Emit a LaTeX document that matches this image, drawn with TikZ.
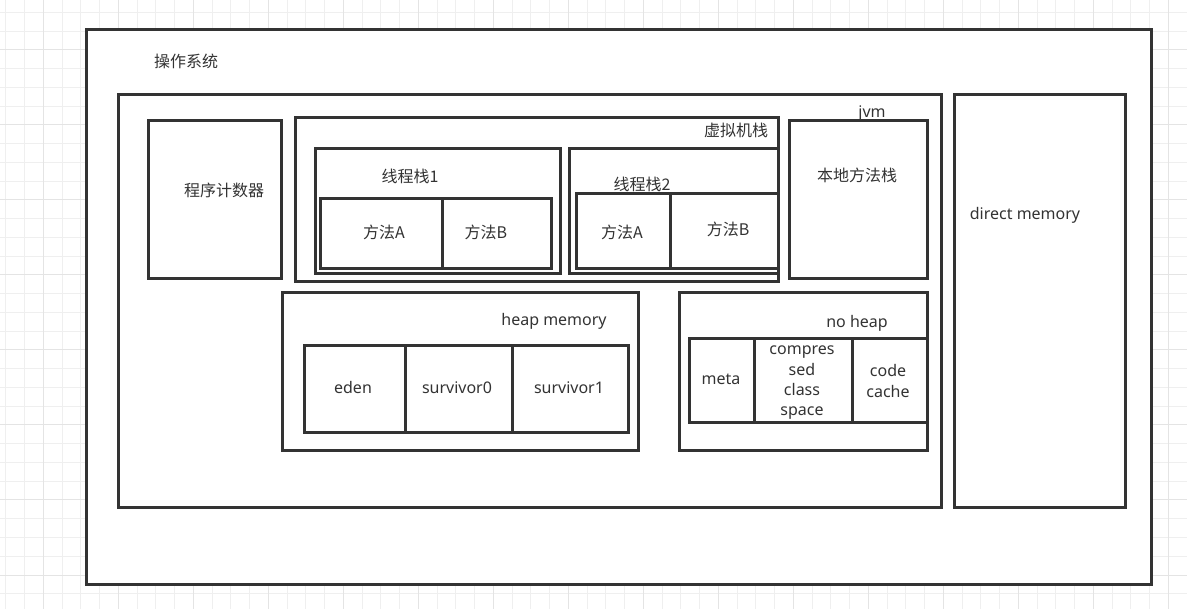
\documentclass[tikz,border=0pt]{standalone}
\usepackage{fontspec}
\setmainfont{Noto Sans}
\newfontfamily\cjk{Noto Sans CJK SC}
\definecolor{boxc}{HTML}{333333}
\definecolor{txtc}{HTML}{333333}
\definecolor{gridminor}{HTML}{EFEFEF}
\definecolor{gridmajor}{HTML}{E4E4E4}
\begin{document}
\begin{tikzpicture}[x=1pt,y=-1pt,
  box/.style={draw=boxc, line width=2.6pt, fill=white, rectangle, inner sep=0pt, anchor=north west},
  lbl/.style={text=txtc, inner sep=0pt, font=\fontsize{16}{20}\selectfont, align=center}]
\useasboundingbox (0,0) rectangle (1187,609);
% background grid
\foreach \i in {0,...,63} {
  \draw[gridminor, line width=1pt] ({5.8+18.75*\i},0) -- ({5.8+18.75*\i},609);
}
\foreach \j in {0,...,32} {
  \draw[gridminor, line width=1pt] (0,{12.5+18.75*\j}) -- (1187,{12.5+18.75*\j});
}
\foreach \i in {0,...,15} {
  \draw[gridmajor, line width=1pt] ({43.3+75*\i},0) -- ({43.3+75*\i},609);
}
\foreach \j in {0,...,7} {
  \draw[gridmajor, line width=1pt] (0,{50+75*\j}) -- (1187,{50+75*\j});
}
% operating system
\node[box, minimum width=1065pt, minimum height=555pt] (os) at (85,28) {};
\node[lbl] (oslbl) at (186,61) {\cjk 操作系统};
% jvm
\node[box, minimum width=823pt, minimum height=413pt] (jvm) at (117,93) {};
\node[lbl] (jvmlbl) at (872,114) {jvm};
\node[box, minimum width=171pt, minimum height=413pt] (direct) at (953,93) {};
\node[lbl] (directlbl) at (1025,215) {direct memory};
% program counter
\node[box, minimum width=133pt, minimum height=158pt] (pc) at (147,119) {};
\node[lbl] (pclbl) at (224,190) {\cjk 程序计数器};
% vm stack
\node[box, minimum width=483pt, minimum height=164pt] (vms) at (294,116) {};
\node[lbl] (vmslbl) at (736,130) {\cjk 虚拟机栈};
% thread stack 1
\node[box, minimum width=245pt, minimum height=125pt] (ts1) at (314,147) {};
\node[lbl] (ts1lbl) at (410,176) {\cjk 线程栈1};
\node[box, minimum width=122pt, minimum height=70pt] (ts1a) at (319,197) {};
\node[box, minimum width=109pt, minimum height=70pt] (ts1b) at (441,197) {};
\node[lbl] (ts1albl) at (384,232) {\cjk 方法A};
\node[lbl] (ts1blbl) at (486,232) {\cjk 方法B};
% thread stack 2
\node[box, minimum width=209pt, minimum height=125pt] (ts2) at (568,147) {};
\node[lbl] (ts2lbl) at (642,184) {\cjk 线程栈2};
\node[box, minimum width=94pt, minimum height=75pt] (ts2a) at (575,192) {};
\node[box, minimum width=108pt, minimum height=75pt] (ts2b) at (669,192) {};
\node[lbl] (ts2albl) at (622,232) {\cjk 方法A};
\node[lbl] (ts2blbl) at (728,229) {\cjk 方法B};
% native method stack
\node[box, minimum width=138pt, minimum height=158pt] (native) at (788,119) {};
\node[lbl] (nativelbl) at (857,175) {\cjk 本地方法栈};
% heap
\node[box, minimum width=356pt, minimum height=158pt] (heap) at (281,291) {};
\node[lbl] (heaplbl) at (554,321) {heap memory};
\node[box, minimum width=101pt, minimum height=87pt] (eden) at (303,344) {};
\node[box, minimum width=107pt, minimum height=87pt] (s0) at (404,344) {};
\node[box, minimum width=116pt, minimum height=87pt] (s1) at (511,344) {};
\node[lbl] (edenlbl) at (353,388) {eden};
\node[lbl] (s0lbl) at (457,388) {survivor0};
\node[lbl] (s1lbl) at (569,388) {survivor1};
% non-heap
\node[box, minimum width=248pt, minimum height=158pt] (noheap) at (678,291) {};
\node[lbl] (noheaplbl) at (857,323) {no heap};
\node[box, minimum width=65pt, minimum height=84pt] (meta) at (688,337) {};
\node[box, minimum width=98pt, minimum height=84pt] (ccs) at (753,337) {};
\node[box, minimum width=75pt, minimum height=84pt] (cc) at (851,337) {};
\node[lbl] (metalbl) at (721,379) {meta};
\node[lbl, font=\fontsize{16}{20.3}\selectfont] (ccslbl) at (802,383) {compres\\sed\\class\\space};
\node[lbl, font=\fontsize{16}{20.3}\selectfont] (cclbl) at (888,381) {code\\cache};
\end{tikzpicture}
\end{document}
